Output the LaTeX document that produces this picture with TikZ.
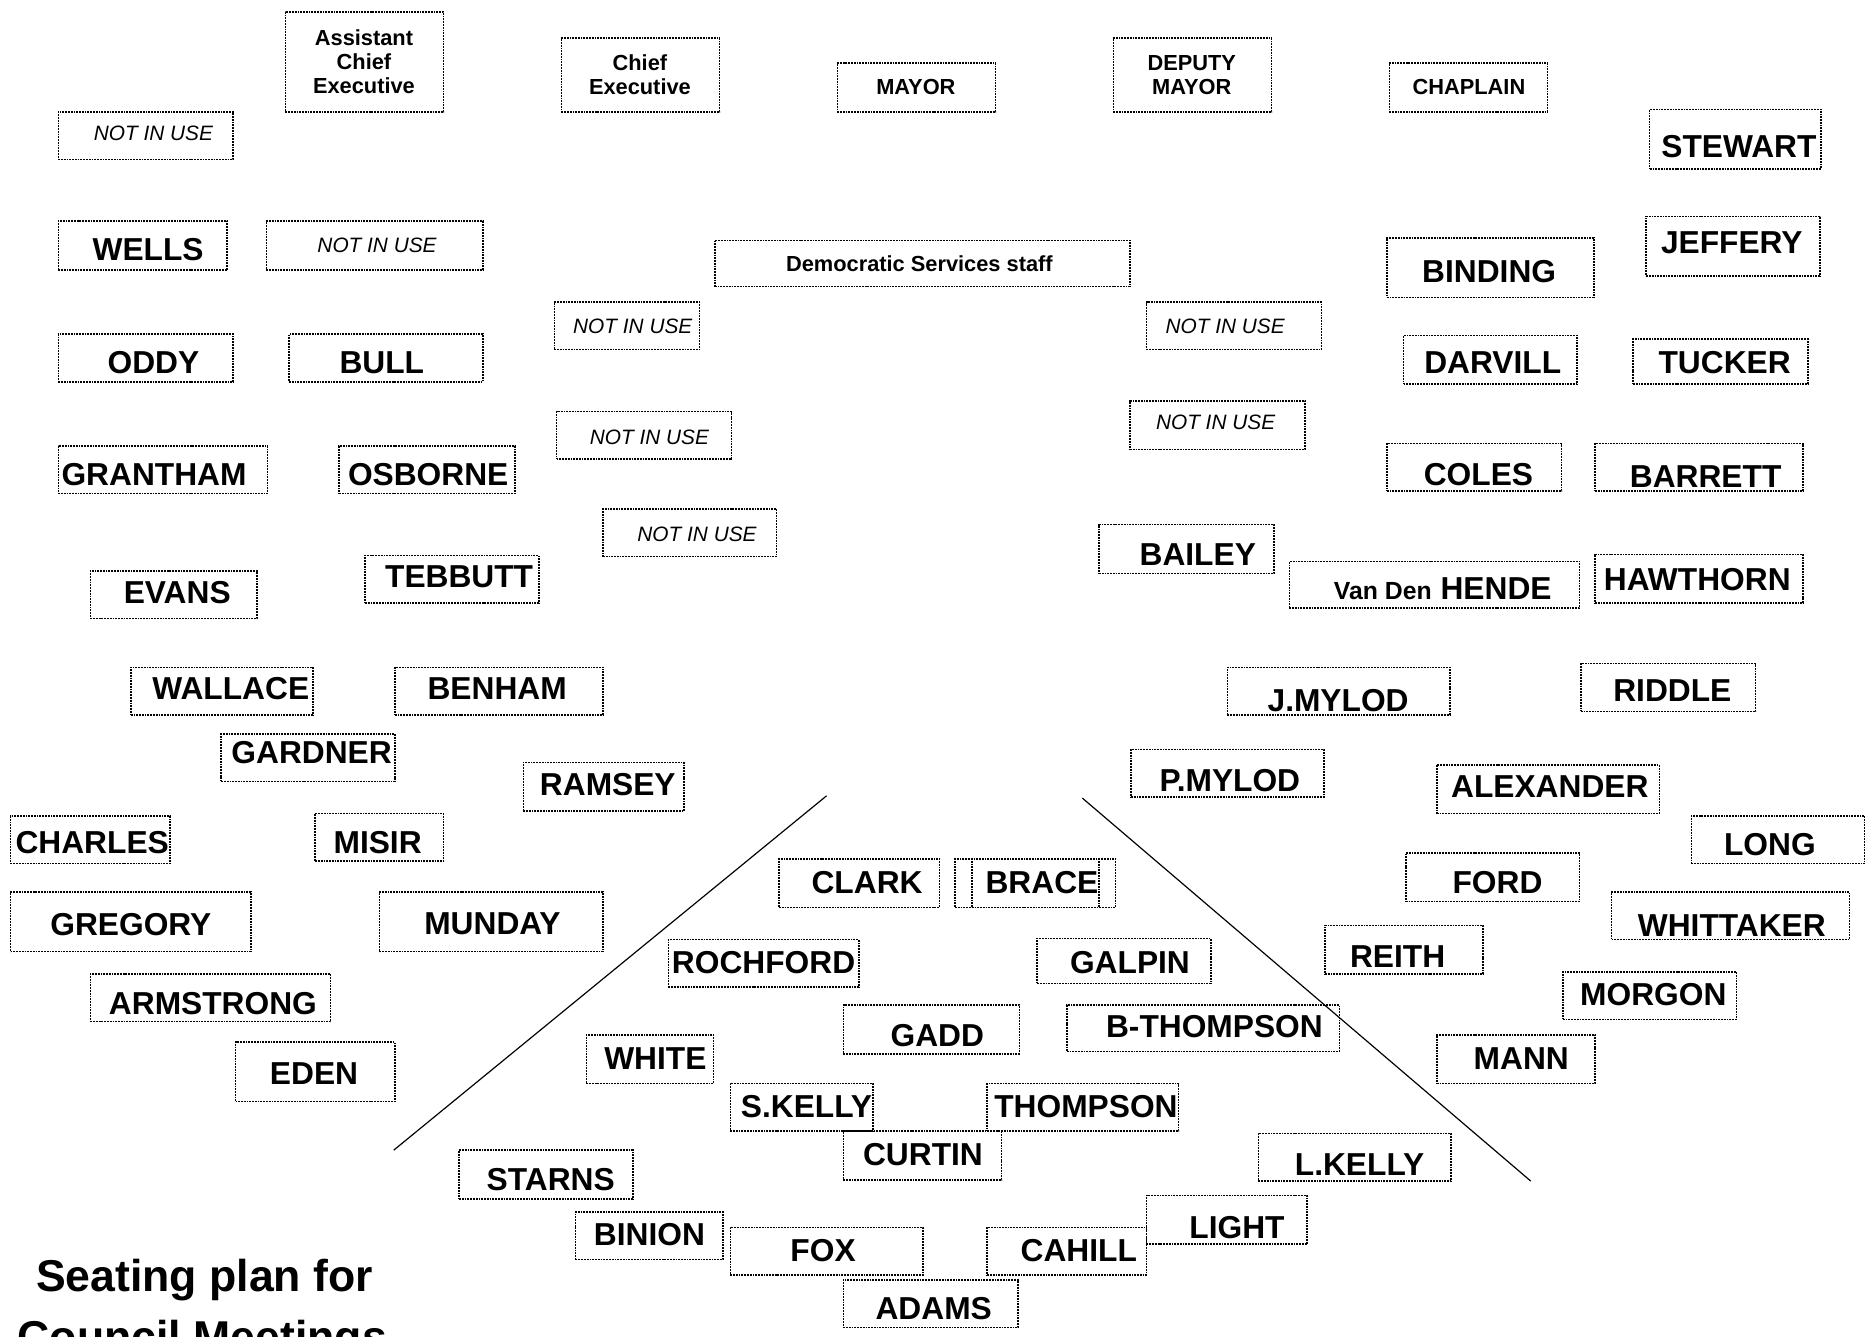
\documentclass[tikz,border=0pt]{standalone}
\usepackage{fontspec}
\setmainfont{Liberation Sans}
\begin{document}
\begin{tikzpicture}[x=0.6pt,y=-0.6pt,
  frame/.style={draw=black, line width=0.75pt, dash pattern=on 0.9pt off 0.5pt, inner sep=0pt, outer sep=0pt},
  nm/.style={inner sep=0pt, font=\bfseries\fontsize{16}{19}\selectfont},
  hd/.style={inner sep=0pt, align=center, font=\bfseries\fontsize{11}{12.2}\selectfont},
  niu/.style={inner sep=0pt, font=\itshape\fontsize{10.5}{12}\selectfont},
  ttl/.style={inner sep=0pt, anchor=base, font=\bfseries\fontsize{22.5}{30.6}\selectfont},
  divider/.style={draw=black, line width=0.6pt}]
\useasboundingbox (0,0) rectangle (1568,1124);
\newcommand\seat[9]{%
  \node[frame, minimum width={(#4-#2)*0.6pt}, minimum height={(#5-#3)*0.6pt}] (#1) at ({(#2+#4)/2},{(#3+#5)/2}) {};
  \node[#8] (#1-t) at (#6,#7) {#9};}
% top row
\seat{ace}{240}{10}{373}{94}{306}{52}{hd}{Assistant\\Chief\\Executive}
\seat{ce}{472}{32}{605}{94}{538}{63}{hd}{Chief\\Executive}
\seat{mayor}{704}{53}{837}{94}{770}{73}{hd}{MAYOR}
\seat{dmayor}{936}{32}{1069}{94}{1002}{63}{hd}{DEPUTY\\MAYOR}
\seat{chaplain}{1168}{53}{1301}{94}{1235}{73}{hd}{CHAPLAIN}
\seat{niu1}{49}{94}{196}{134}{129}{112}{niu}{NOT IN USE}
\seat{stewart}{1387}{92}{1531}{142}{1462}{123}{nm}{STEWART}
\seat{wells}{49}{186}{191}{227}{124.5}{210}{nm}{WELLS}
\seat{niu2}{224}{186}{406}{227}{317}{206}{niu}{NOT IN USE}
\seat{dss}{601}{202}{950}{241}{773}{222}{hd}{Democratic Services staff}
\seat{binding}{1166}{200}{1340}{250}{1252}{228}{nm}{BINDING}
\seat{jeffery}{1384}{182}{1530}{232}{1456}{204}{nm}{JEFFERY}
\seat{niu3}{466}{254}{588}{294}{532}{274}{niu}{NOT IN USE}
\seat{niu4}{964}{254}{1111}{294}{1030}{274}{niu}{NOT IN USE}
\seat{oddy}{49}{281}{196}{321}{129}{305}{nm}{ODDY}
\seat{bull}{243}{281}{406}{321}{321}{305}{nm}{BULL}
\seat{darvill}{1180}{282}{1326}{323}{1255}{305}{nm}{DARVILL}
\seat{tucker}{1373}{285}{1520}{323}{1450}{305}{nm}{TUCKER}
\seat{niu5}{468}{346}{615}{386}{546}{368}{niu}{NOT IN USE}
\seat{niu6}{950}{337}{1097}{378}{1022}{355}{niu}{NOT IN USE}
\seat{grantham}{49}{375}{225}{415}{129.5}{399}{nm}{GRANTHAM}
\seat{osborne}{285}{375}{433}{415}{360}{399}{nm}{OSBORNE}
\seat{coles}{1166}{373}{1313}{413}{1243}{399}{nm}{COLES}
\seat{barrett}{1341}{373}{1516}{413}{1434}{401}{nm}{BARRETT}
\seat{niu7}{507}{428}{653}{468}{586}{449}{niu}{NOT IN USE}
\seat{bailey}{924}{441}{1071}{482}{1007}{466}{nm}{BAILEY}
\seat{evans}{76}{480}{216}{520}{149}{498}{nm}{EVANS}
\seat{tebbutt}{307}{467}{453}{507}{386}{485}{nm}{TEBBUTT}
\seat{hende}{1084}{472}{1328}{511}{1213}{495}{nm}{{\fontsize{12.5}{15}\selectfont Van Den} HENDE}
\seat{hawthorn}{1341}{466}{1516}{507}{1427}{487}{nm}{HAWTHORN}
\seat{wallace}{110}{561}{263}{601}{194}{579}{nm}{WALLACE}
\seat{benham}{332}{561}{507}{601}{418}{579}{nm}{BENHAM}
\seat{jmylod}{1032}{561}{1219}{601}{1125}{589}{nm}{J.MYLOD}
\seat{riddle}{1329}{558}{1476}{598}{1406}{581}{nm}{RIDDLE}
\seat{gardner}{186}{617}{332}{657}{262}{633}{nm}{GARDNER}
\seat{ramsey}{440}{641}{575}{682}{511}{660}{nm}{RAMSEY}
\seat{pmylod}{951}{630}{1113}{670}{1034}{656}{nm}{P.MYLOD}
\seat{alexander}{1208}{643}{1395}{684}{1303}{661}{nm}{ALEXANDER}
\seat{charles}{9}{686}{143}{726}{77.5}{708}{nm}{CHARLES}
\seat{misir}{265}{684}{373}{724}{317.5}{708}{nm}{MISIR}
\seat{long}{1422}{686}{1568}{726}{1488}{710}{nm}{LONG}
\seat{clark}{655}{722}{790}{763}{729}{742}{nm}{CLARK}
\node[frame, minimum width={121*0.6pt}, minimum height={41*0.6pt}] (brace2) at (877.5,742.5) {};
\seat{brace}{803}{722}{924}{763}{876}{742}{nm}{BRACE}
\seat{ford}{1182}{717}{1328}{758}{1259}{742}{nm}{FORD}
\seat{gregory}{9}{750}{211}{800}{110}{777}{nm}{GREGORY}
\seat{munday}{319}{750}{507}{800}{414}{777}{nm}{MUNDAY}
\seat{whittaker}{1355}{750}{1555}{790}{1456}{778}{nm}{WHITTAKER}
\seat{rochford}{562}{790}{722}{830}{642}{809}{nm}{ROCHFORD}
\seat{galpin}{872}{789}{1018}{827}{950}{809}{nm}{GALPIN}
\seat{reith}{1114}{778}{1247}{819}{1175}{804}{nm}{REITH}
\seat{morgon}{1314}{817}{1460}{857}{1390}{836}{nm}{MORGON}
\seat{armstrong}{76}{819}{278}{859}{179}{844}{nm}{ARMSTRONG}
\seat{gadd}{709}{845}{857}{886}{788}{871}{nm}{GADD}
\seat{bthompson}{897}{845}{1126}{884}{1021}{863}{nm}{B-THOMPSON}
\seat{eden}{198}{876}{332}{926}{264}{903}{nm}{EDEN}
\seat{white}{493}{870}{600}{911}{551}{890}{nm}{WHITE}
\seat{mann}{1208}{870}{1341}{911}{1279}{890}{nm}{MANN}
\seat{skelly}{614}{911}{734}{951}{678}{930}{nm}{S.KELLY}
\seat{thompson}{830}{911}{991}{951}{913}{930}{nm}{THOMPSON}
\seat{curtin}{709}{951}{842}{992}{776}{971}{nm}{CURTIN}
\seat{lkelly}{1058}{953}{1220}{993}{1143}{979}{nm}{L.KELLY}
\seat{starns}{386}{967}{532}{1008}{463}{992}{nm}{STARNS}
\seat{light}{964}{1005}{1099}{1046}{1040}{1032}{nm}{LIGHT}
\seat{binion}{484}{1019}{608}{1059}{546}{1038}{nm}{BINION}
\seat{fox}{614}{1032}{776}{1072}{692}{1051}{nm}{FOX}
\seat{cahill}{830}{1032}{964}{1072}{907}{1051}{nm}{CAHILL}
\seat{adams}{709}{1076}{856}{1116}{785}{1100}{nm}{ADAMS}
% dividers
\coordinate (l1a) at (695,669);
\coordinate (l1b) at (331,967);
\coordinate (l2a) at (910,671);
\coordinate (l2b) at (1287,993);
\draw[divider] (l1a) -- (l1b);
\draw[divider] (l2a) -- (l2b);
% title
\node[ttl] (title1) at (172,1086) {Seating plan for};
\node[ttl] (title2) at (170,1137) {Council Meetings};
\end{tikzpicture}
\end{document}
